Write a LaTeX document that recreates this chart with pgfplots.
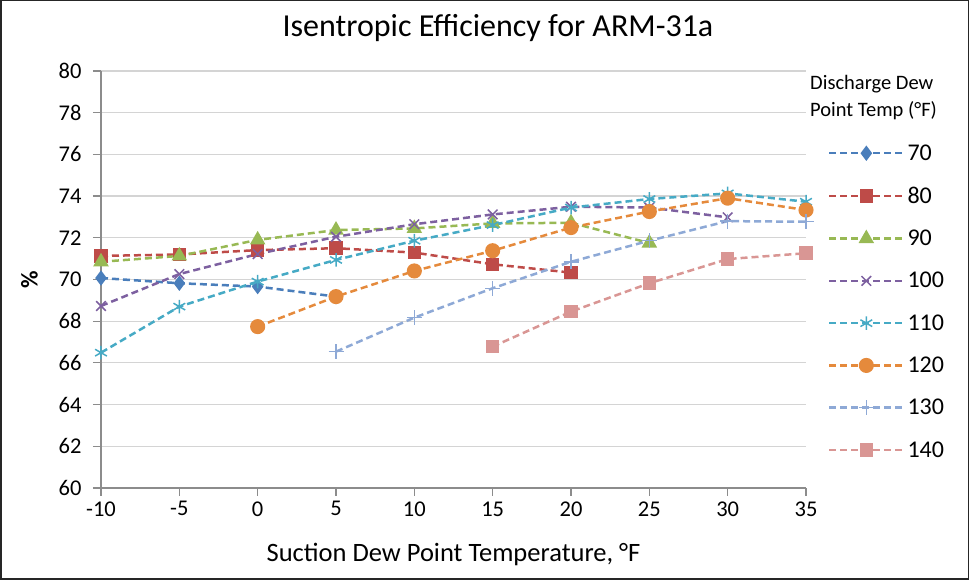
\documentclass[border=0pt]{standalone}
\usepackage{fontspec}
\setmainfont{Carlito}
\usepackage{pgfplots}
\pgfplotsset{compat=1.18}
\definecolor{c70}{HTML}{4A7EBB}
\definecolor{c80}{HTML}{BE4B48}
\definecolor{c90}{HTML}{98B954}
\definecolor{c100}{HTML}{7D60A0}
\definecolor{c110}{HTML}{46AAC5}
\definecolor{c120}{HTML}{E58A3C}
\definecolor{c130}{HTML}{8EA9D6}
\definecolor{c140}{HTML}{D99694}
\begin{document}
\begin{tikzpicture}[x=1pt,y=1pt]
\useasboundingbox (0,0) rectangle (969,580);
\draw[color=black!85, line width=1.5pt] (0.75,0.75) rectangle (968.25,579.25);
\node[font=\fontsize{32}{38}\selectfont, anchor=base] at (498,543) {Isentropic Efficiency for ARM-31a};
\node[font=\fontsize{20.5}{27}\selectfont, align=left, anchor=north west, inner sep=0pt] at (810,505) {Discharge Dew\\Point Temp (°F)};
\begin{axis}[
  at={(101pt,92pt)}, anchor=south west,
  width=705pt, height=417pt, scale only axis,
  xmin=-10, xmax=35, ymin=60, ymax=80,
  xtick={-10,-5,...,35}, ytick={60,62,...,80},
  axis x line*=bottom, axis y line*=left,
  axis line style={draw=black!45, line width=1.2pt, -},
  tick style={draw=black!45, line width=1.2pt},
  tick align=outside, major tick length=8pt,
  ymajorgrids, grid style={draw=black!17, line width=1.2pt},
  /pgf/number format/assume math mode=true,
  ticklabel style={font=\fontsize{22.5}{27}\selectfont},
  xticklabel style={yshift=-2pt},
  yticklabel style={xshift=-8pt},
  label style={font=\fontsize{26.5}{31}\selectfont},
  xlabel={Suction Dew Point Temperature, °F},
  ylabel={\textbf{\%}},
  xlabel style={yshift=-20pt},
  ylabel style={yshift=14pt, font=\fontsize{24}{28}\selectfont},
  every axis plot/.append style={line width=2.5pt, dash pattern=on 7pt off 4pt},
  mark options={solid, line width=1.5pt},
  legend style={at={(axis description cs:1.031,0.8285)}, anchor=north west, draw=none, fill=none,
    font=\fontsize{24}{28}\selectfont, row sep=21.2pt, inner sep=0pt},
  legend cell align=left,
  legend image code/.code={\draw[mark repeat=2,mark phase=2,#1] plot coordinates {(0pt,0pt) (37pt,0pt) (75pt,0pt)};},
]
\addplot[color=c70, mark=diamond*, mark size=6.5pt] coordinates {(-10,70.07) (-5,69.82) (0,69.66) (5,69.18)};
\addlegendentry{70}
\addplot[color=c80, mark=square*, mark size=6pt] coordinates {(-10,71.13) (-5,71.2) (0,71.41) (5,71.5) (10,71.29) (15,70.73) (20,70.33)};
\addlegendentry{80}
\addplot[color=c90, mark=triangle*, mark size=7.5pt] coordinates {(-10,70.85) (-5,71.13) (0,71.9) (5,72.37) (10,72.45) (15,72.69) (20,72.72) (25,71.75)};
\addlegendentry{90}
\addplot[color=c100, mark=x, mark size=6.8pt] coordinates {(-10,68.73) (-5,70.26) (0,71.22) (5,72.05) (10,72.65) (15,73.12) (20,73.49) (25,73.45) (30,72.98)};
\addlegendentry{100}
\addplot[color=c110, mark=asterisk, mark size=6.8pt] coordinates {(-10,66.49) (-5,68.7) (0,69.9) (5,70.94) (10,71.86) (15,72.61) (20,73.45) (25,73.86) (30,74.13) (35,73.73)};
\addlegendentry{110}
\addplot[color=c120, mark=*, mark size=6.8pt] coordinates {(0,67.74) (5,69.18) (10,70.41) (15,71.38) (20,72.49) (25,73.26) (30,73.9) (35,73.33)};
\addlegendentry{120}
\addplot[color=c130, mark=+, mark size=7.5pt] coordinates {(5,66.54) (10,68.17) (15,69.58) (20,70.85) (25,71.86) (30,72.8) (35,72.77)};
\addlegendentry{130}
\addplot[color=c140, mark=square*, mark size=6pt] coordinates {(15,66.78) (20,68.46) (25,69.82) (30,70.98) (35,71.26)};
\addlegendentry{140}
\end{axis}
\end{tikzpicture}
\end{document}
